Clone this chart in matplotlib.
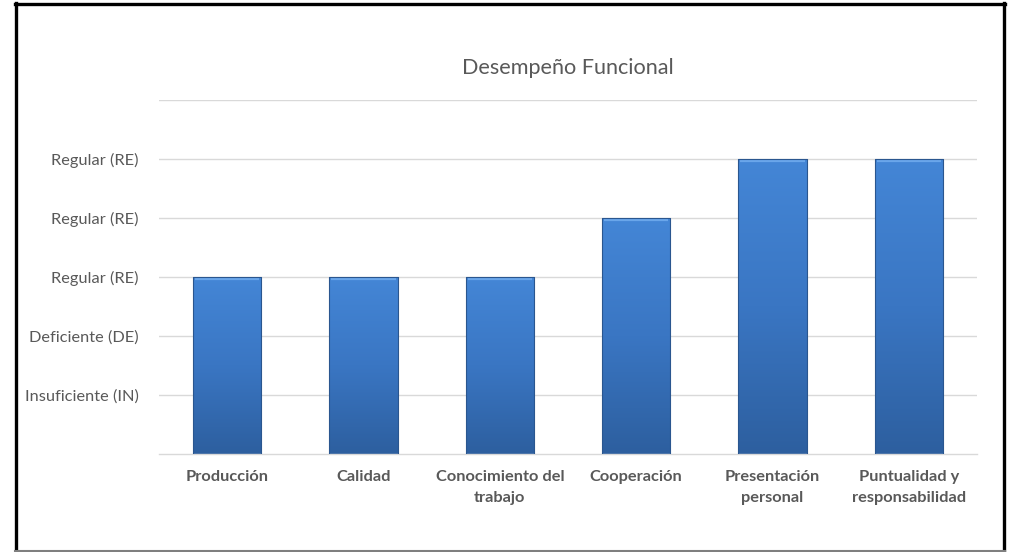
import numpy as np
import matplotlib
matplotlib.use("Agg")
import matplotlib.pyplot as plt
from matplotlib.colors import LinearSegmentedColormap
from matplotlib.lines import Line2D

categories = ["Producción", "Calidad", "Conocimiento del\ntrabajo", "Cooperación",
              "Presentación\npersonal", "Puntualidad y\nresponsabilidad"]
values = [3, 3, 3, 4, 5, 5]
ytick_values = [1, 2, 3, 4, 5, 6]
ytick_labels = ["Insuficiente (IN)", "Deficiente (DE)", "Regular (RE)",
                "Regular (RE)", "Regular (RE)", ""]
title = "Desempeño Funcional"

text_color = "#595959"
grid_color = "#d9d9d9"
font = ["Lato", "DejaVu Sans"]

fig = plt.figure(figsize=(10.13, 5.52), dpi=100)
ax = fig.add_axes([159 / 1013, 1 - 454 / 552, (977 - 159) / 1013, (454 - 100) / 552])

x = np.arange(len(categories))
bars = ax.bar(x, values, width=0.5, color="#3a75c4", edgecolor="#2a568f",
              linewidth=0.6, zorder=2)

# vertical gradient inside each bar, lighter at the top
grad_cmap = LinearSegmentedColormap.from_list(
    "bar", ["#2d5f9f", "#3a76c3", "#4486d6"])
gradient = np.linspace(0, 1, 256).reshape(-1, 1)
for b in bars:
    x0, y0 = b.get_x(), b.get_y()
    w, h = b.get_width(), b.get_height()
    im = ax.imshow(gradient, cmap=grad_cmap, origin="lower", aspect="auto",
                   extent=[x0, x0 + w, y0, y0 + h], zorder=2.5, interpolation="bicubic")
    im.set_clip_path(b)
    # bevelled top edge
    ax.plot([x0 + w * 0.03, x0 + w * 0.97], [y0 + h - 0.04, y0 + h - 0.04],
            color="#6aa6ea", linewidth=1.6, zorder=3, solid_capstyle="butt")
    ax.plot([x0, x0, x0 + w, x0 + w], [y0, y0 + h, y0 + h, y0],
            color="#2a568f", linewidth=0.8, zorder=3.2)

ax.set_xlim(-0.5, len(categories) - 0.5)
ax.set_ylim(0, 6)
ax.set_yticks(ytick_values)
ax.set_yticklabels(ytick_labels)
ax.set_xticks(x)
ax.set_xticklabels(categories, fontweight="bold", linespacing=1.6)
ax.tick_params(axis="y", length=0, pad=14.5, labelsize=11.8, labelcolor=text_color)
ax.tick_params(axis="x", length=0, pad=11.5, labelsize=11.8, labelcolor=text_color)
for lab in ax.get_xticklabels() + ax.get_yticklabels():
    lab.set_family(font)

ax.yaxis.grid(True, color=grid_color, linewidth=1.0, zorder=0)
ax.set_axisbelow(True)
for side in ["top", "right", "left"]:
    ax.spines[side].set_visible(False)
ax.spines["bottom"].set_color(grid_color)
ax.spines["bottom"].set_linewidth(1.0)

fig.text((159 + 977) / 2 / 1013, 1 - 68 / 552, title, ha="center", va="center",
         fontsize=15.6, color=text_color, family=font)

# frame around the chart
W, H = 1013, 552
def fx(px):
    return px / W
def fy(py):
    return 1 - py / H
frame = [
    ([fx(16), fx(16)], [fy(3), fy(551)], "black", 2.4),
    ([fx(15), fx(1005)], [fy(4), fy(4)], "black", 2.4),
    ([fx(1004), fx(1004)], [fy(3), fy(551)], "black", 2.4),
    ([fx(15), fx(1005)], [fy(550.5), fy(550.5)], "#7f7f7f", 1.5),
]
for xs, ys, c, lw in frame:
    fig.add_artist(Line2D(xs, ys, color=c, linewidth=lw, transform=fig.transFigure))

fig.savefig("out.png", dpi=100)
